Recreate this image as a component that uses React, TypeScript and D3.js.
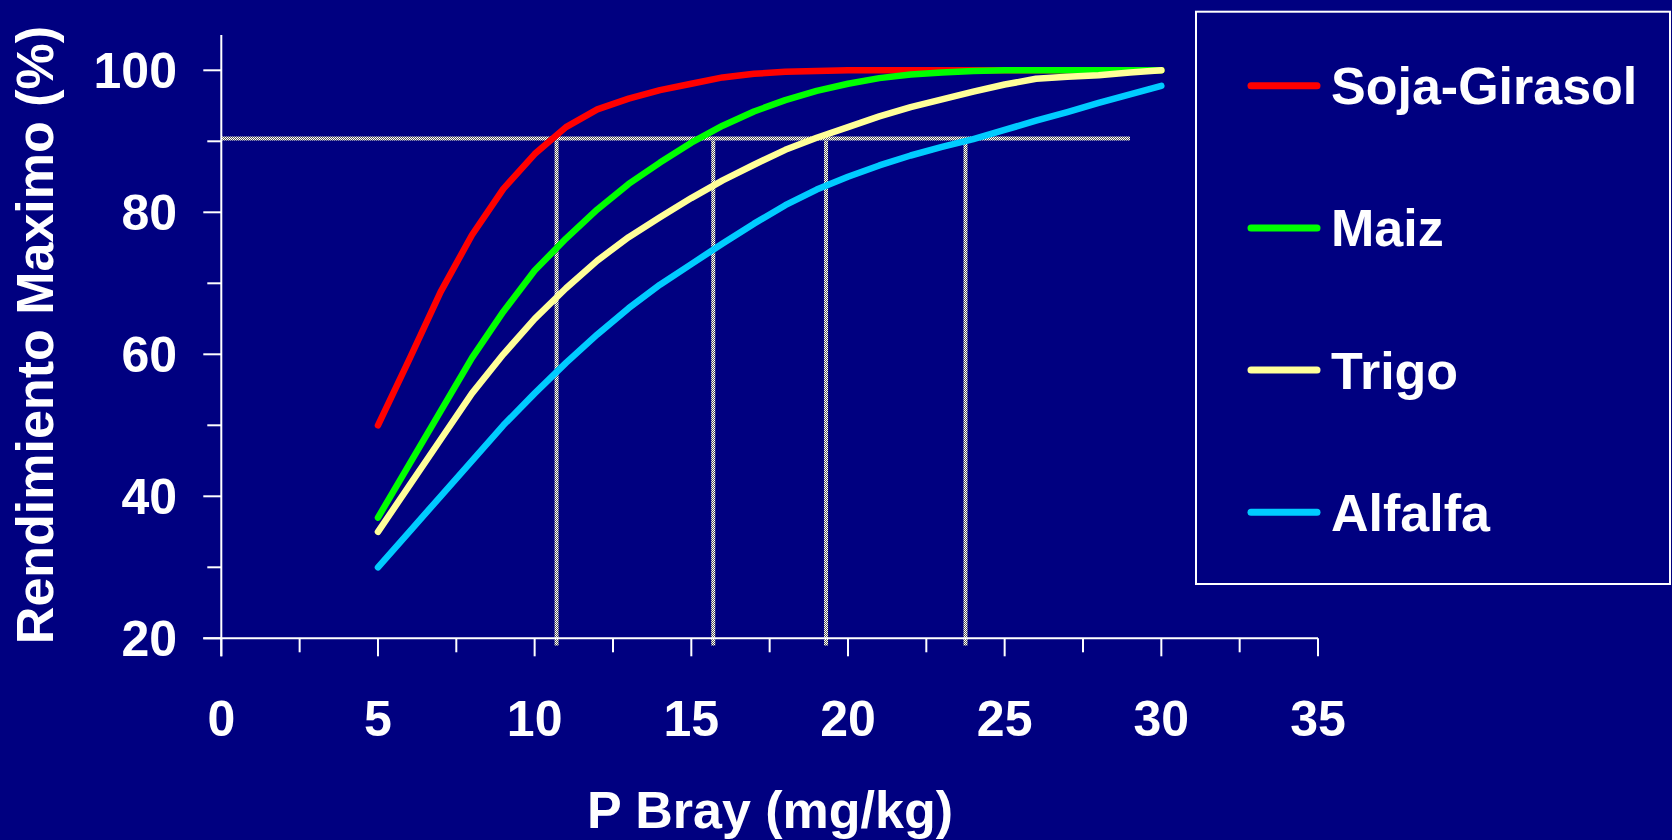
import React from "react";
import * as d3 from "d3";

const xValues = [5, 6, 7, 8, 9, 10, 11, 12, 13, 14, 15, 16, 17, 18, 19, 20, 21, 22, 23, 24, 25, 26, 27, 28, 29, 30];
const sojaGirasol = [50, 59.3, 68.8, 76.8, 83.3, 88.2, 92, 94.5, 96, 97.2, 98.1, 99, 99.5, 99.8, 99.9, 100, 100, 100, 100, 100, 100, 100, 100, 100, 100, 100];
const maiz = [37, 44.5, 52, 59.5, 66, 71.8, 76.3, 80.4, 84, 87, 89.8, 92.2, 94.2, 95.8, 97.1, 98.1, 98.9, 99.4, 99.7, 99.9, 100, 100, 100, 100, 100, 100];
const trigo = [35, 41.5, 48, 54.5, 60, 65, 69.3, 73.2, 76.5, 79.3, 82, 84.5, 86.7, 88.8, 90.5, 92, 93.5, 94.8, 95.9, 97, 98, 98.8, 99.1, 99.3, 99.7, 100];
const alfalfa = [30, 35, 40, 45, 50, 54.5, 58.8, 62.8, 66.5, 69.8, 72.7, 75.6, 78.4, 81, 83.2, 85, 86.6, 88, 89.2, 90.3, 91.6, 92.9, 94.1, 95.4, 96.6, 97.8];

const seriesNames = ["Soja-Girasol", "Maiz", "Trigo", "Alfalfa"];
const seriesValues = [sojaGirasol, maiz, trigo, alfalfa];
const seriesColors = ["#ff0000", "#00ff00", "#ffff99", "#00ccff"];

const xTicks = [0, 5, 10, 15, 20, 25, 30, 35];
const xMinorTicks = [2.5, 7.5, 12.5, 17.5, 22.5, 27.5, 32.5];
const yTicks = [20, 40, 60, 80, 100];
const yMinorTicks = [30, 50, 70, 90];

const refLevel = 90.4;
const refLineEnd = 29;
const criticalValues = [10.7, 15.7, 19.3, 23.75];

const xTitle = "P Bray (mg/kg)";
const yTitle = "Rendimiento Maximo (%)";

const W = 1672;
const H = 840;
const FONT = "'Liberation Sans', Arial, Helvetica, sans-serif";

export default function App() {
  const x = d3.scaleLinear().domain([0, 35]).range([221.3, 1318]);
  const y = d3.scaleLinear().domain([20, 100]).range([638.3, 70.3]);
  const yTop = y.invert(35);
  const line = d3
    .line<number>()
    .x((_, i) => x(xValues[i]))
    .y((d) => y(d));

  const legendX = 1196;
  const legendY = 11.7;
  const legendW = 474;
  const legendH = 572.3;
  const legendRows = d3.scaleLinear().domain([0, 3]).range([85.7, 512.3]);

  return (
    <svg
      width={W}
      height={H}
      style={{ position: "fixed", left: 0, top: 0, display: "block" }}
      fontFamily={FONT}
    >
      <defs>
        <pattern id="checker" width="2" height="2" patternUnits="userSpaceOnUse">
          <rect x="0" y="0" width="2" height="2" fill="#5a5a5a" />
          <rect x="0" y="0" width="1" height="1" fill="#ffffff" />
          <rect x="1" y="1" width="1" height="1" fill="#ffffff" />
        </pattern>
      </defs>
      <rect x={0} y={0} width={W} height={H} fill="#000080" />

      {/* reference lines */}
      <line
        x1={x(0)}
        x2={x(refLineEnd)}
        y1={y(refLevel)}
        y2={y(refLevel)}
        stroke="url(#checker)"
        strokeWidth={4}
      />
      {criticalValues.map((v, i) => (
        <line
          key={i}
          x1={x(v)}
          x2={x(v)}
          y1={y(refLevel) + 2}
          y2={y(19)}
          stroke="url(#checker)"
          strokeWidth={4}
        />
      ))}

      {/* axes */}
      <line x1={x(0)} x2={x(0)} y1={y(yTop)} y2={y(20) + 18} stroke="#fff" strokeWidth={2} />
      <line x1={x(0) - 18} x2={x(35)} y1={y(20)} y2={y(20)} stroke="#fff" strokeWidth={2} />
      {xTicks.map((t) => (
        <g key={"xt" + t}>
          <line x1={x(t)} x2={x(t)} y1={y(20)} y2={y(20) + 18} stroke="#fff" strokeWidth={2} />
          <text
            x={x(t)}
            y={736}
            fill="#fff"
            fontSize={50}
            fontWeight="bold"
            textAnchor="middle"
          >
            {t}
          </text>
        </g>
      ))}
      {xMinorTicks.map((t) => (
        <line key={"xm" + t} x1={x(t)} x2={x(t)} y1={y(20)} y2={y(20) + 14} stroke="#fff" strokeWidth={2} />
      ))}
      {yTicks.map((t) => (
        <g key={"yt" + t}>
          <line x1={x(0) - 18} x2={x(0)} y1={y(t)} y2={y(t)} stroke="#fff" strokeWidth={2} />
          <text
            x={177}
            y={y(t) + 17.5}
            fill="#fff"
            fontSize={50}
            fontWeight="bold"
            textAnchor="end"
          >
            {t}
          </text>
        </g>
      ))}
      {yMinorTicks.map((t) => (
        <line key={"ym" + t} x1={x(0) - 14} x2={x(0)} y1={y(t)} y2={y(t)} stroke="#fff" strokeWidth={2} />
      ))}

      {/* curves */}
      {seriesValues.map((vals, i) => (
        <path
          key={seriesNames[i]}
          d={line(vals) || ""}
          fill="none"
          stroke={seriesColors[i]}
          strokeWidth={6.5}
          strokeLinecap="round"
          strokeLinejoin="round"
        />
      ))}

      {/* titles */}
      <text
        x={770}
        y={828}
        fill="#fff"
        fontSize={52}
        fontWeight="bold"
        textAnchor="middle"
      >
        {xTitle}
      </text>
      <text
        transform={`translate(52.5, 335) rotate(-90)`}
        fill="#fff"
        fontSize={52}
        fontWeight="bold"
        textAnchor="middle"
      >
        {yTitle}
      </text>

      {/* legend */}
      <rect
        x={legendX}
        y={legendY}
        width={legendW}
        height={legendH}
        fill="none"
        stroke="#fff"
        strokeWidth={2}
      />
      {seriesNames.map((name, i) => (
        <g key={"lg" + name}>
          <line
            x1={1251}
            x2={1317}
            y1={legendRows(i)}
            y2={legendRows(i)}
            stroke={seriesColors[i]}
            strokeWidth={7}
            strokeLinecap="round"
          />
          <text
            x={1331}
            y={legendRows(i) + 18.5}
            fill="#fff"
            fontSize={52}
            fontWeight="bold"
          >
            {name}
          </text>
        </g>
      ))}
    </svg>
  );
}
